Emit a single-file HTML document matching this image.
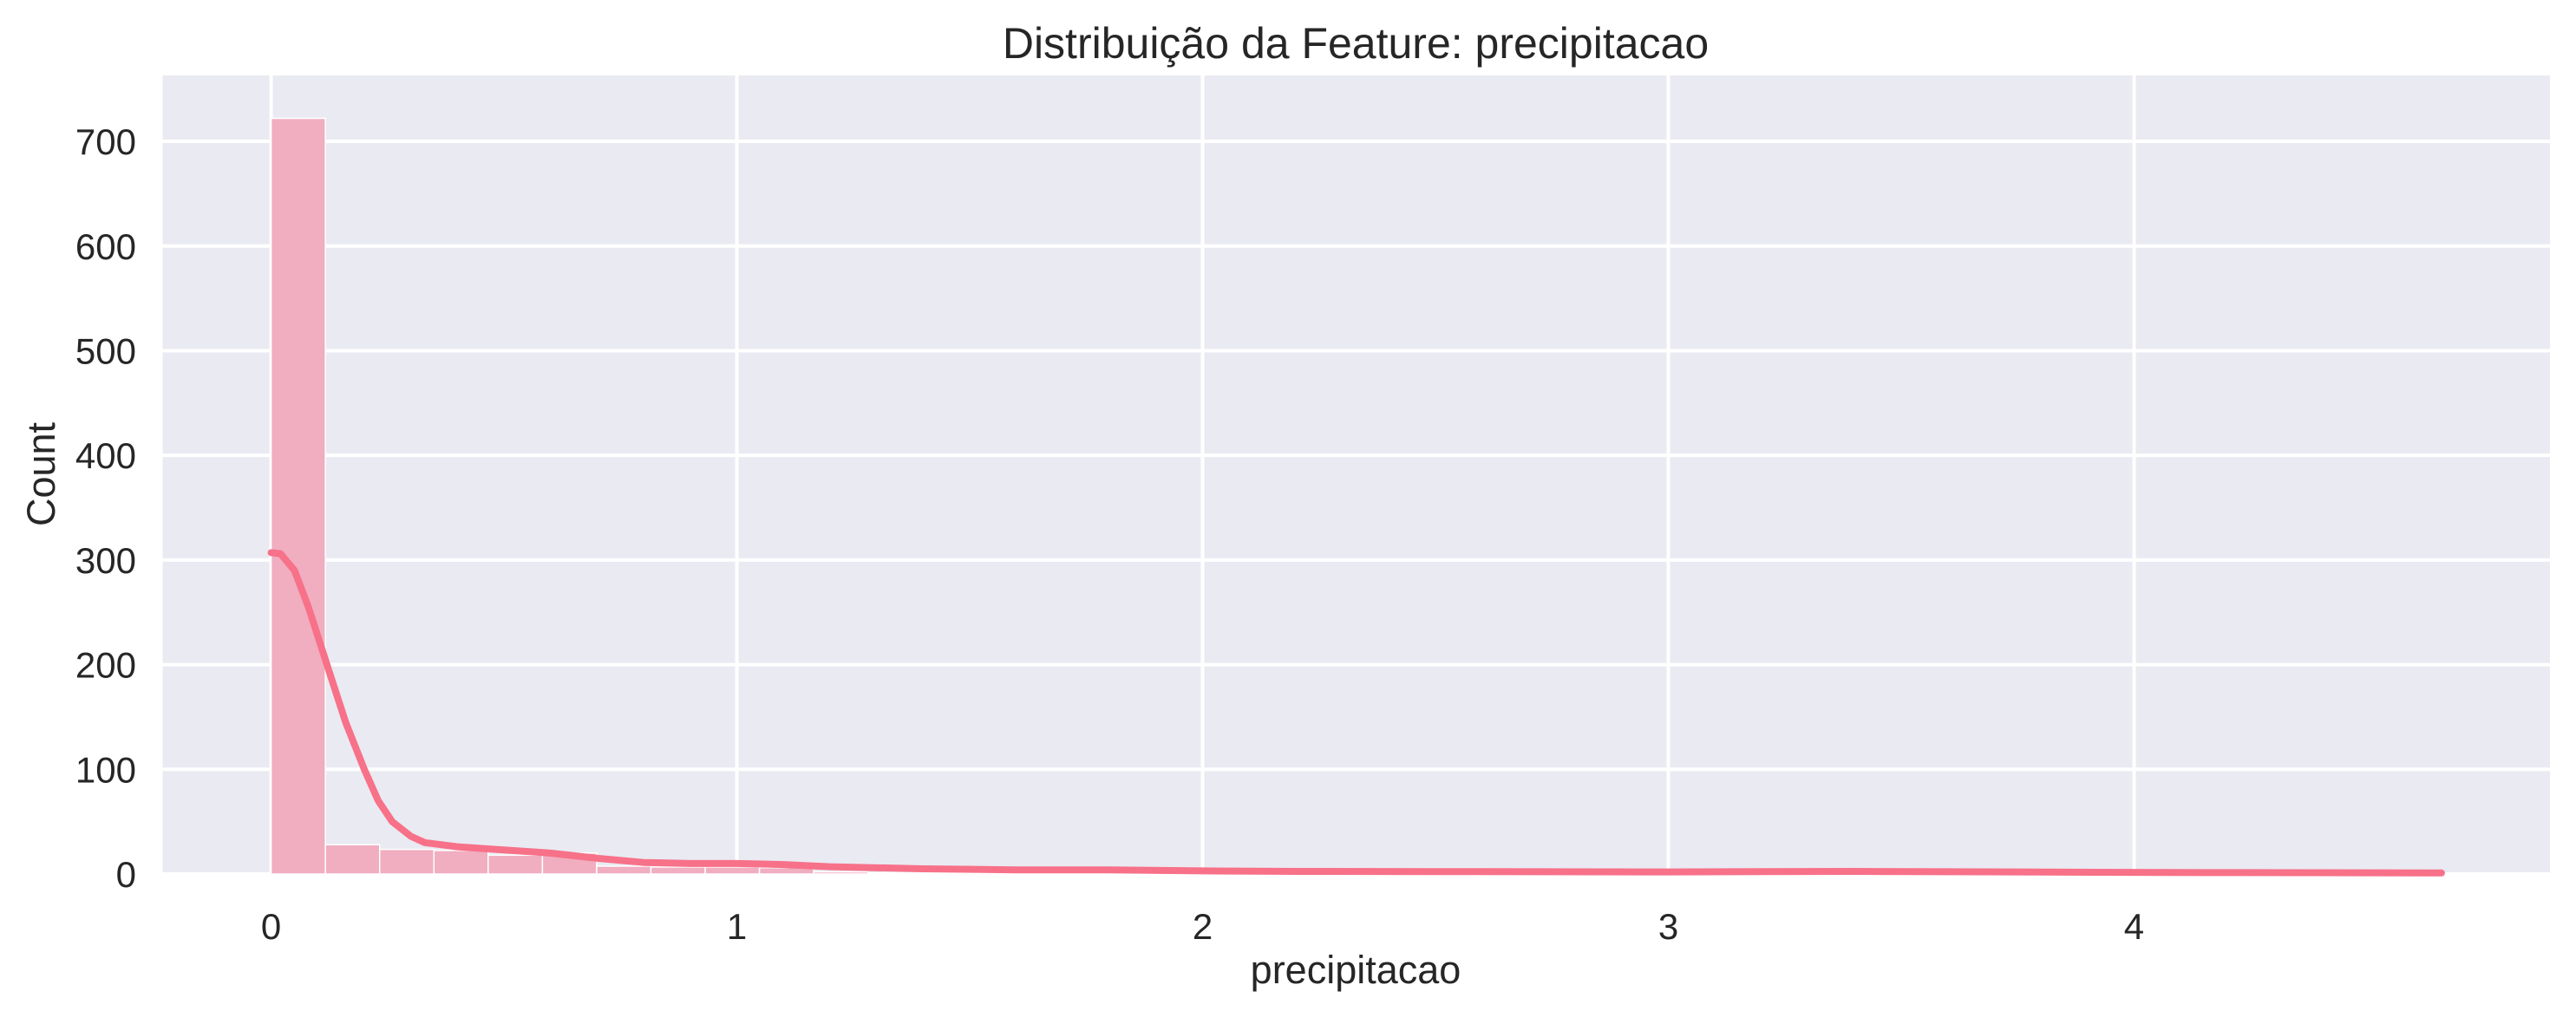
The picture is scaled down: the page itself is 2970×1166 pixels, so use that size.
<!DOCTYPE html>
<html><head><meta charset="utf-8"><style>
html,body{margin:0;padding:0;background:#fff;}
svg{display:block;font-family:"Liberation Sans",Arial,sans-serif;}
</style></head><body>
<svg id="chart" width="2970" height="1166" viewBox="0 0 2970 1166">
<rect x="0" y="0" width="2970" height="1166" fill="#fff"/>
<rect id="plotbg" x="187.5" y="87" width="2752.5" height="921" fill="#EAEAF2"/>
<g id="grid"></g><g id="bars"></g><g id="kde"></g><g id="ticks"></g>
<text x="1563" y="67" font-size="50" text-anchor="middle" fill="#262626">Distribuição da Feature: precipitacao</text>
<text x="1563" y="1134" font-size="45" text-anchor="middle" fill="#262626">precipitacao</text>
<text transform="translate(63,547) rotate(-90)" font-size="45" text-anchor="middle" fill="#262626">Count</text>
</svg>
<script>
const binCounts = [722,28,23.5,22.5,18,20,7.5,6.7,6.7,6,2,1,1,1,1,0,1,1,0,1,0,1,0,0,1,0,0,1,0,1,0,0,1,0,0,0,1,0,0,1];
const binMax = 4.66;
const kdeX = [0,0.02,0.05,0.08,0.12,0.16,0.2,0.23,0.26,0.3,0.33,0.4,0.5,0.6,0.7,0.8,0.9,1.0,1.1,1.2,1.4,1.6,1.8,2.0,2.2,2.6,3.0,3.4,3.8,4.2,4.66];
const kdeY = [307,306,290,255,200,145,100,70,50,36,30,26,23,20,15,11,10,10,9,7,5,4,4,3,2.5,2.2,2,2.5,1.8,1.3,1];
const xTicks = [0,1,2,3,4];
const yTicks = [0,100,200,300,400,500,600,700];
const NS="http://www.w3.org/2000/svg";
const L=187.5,R=2940,T=87,B=1008;
const xMin=-0.233,xMax=4.893,yMin=0,yMax=763;
const xs=v=>L+(v-xMin)/(xMax-xMin)*(R-L);
const ys=v=>B-(v-yMin)/(yMax-yMin)*(B-T);
function mk(tag,attrs,parent){const e=document.createElementNS(NS,tag);for(const k in attrs)e.setAttribute(k,attrs[k]);parent.appendChild(e);return e;}
const grid=document.getElementById('grid'),ticks=document.getElementById('ticks');
xTicks.forEach(t=>{
  const l=mk('line',{x1:xs(t),x2:xs(t),y1:T,y2:B,stroke:'#fff','stroke-width':4},grid);
  
  
  const tx=mk('text',{x:xs(t),y:1083,'font-size':42,'text-anchor':'middle',fill:'#262626'},ticks);
  tx.textContent=t;
  
  
});
yTicks.forEach(t=>{
  const l=mk('line',{x1:L,x2:R,y1:ys(t),y2:ys(t),stroke:'#fff','stroke-width':4},grid);
  
  
  const tx=mk('text',{x:157,y:ys(t)+15,'font-size':42,'text-anchor':'end',fill:'#262626'},ticks);
  tx.textContent=t;
  
  
});
const bars=document.getElementById('bars');
const bw=binMax/binCounts.length;
binCounts.forEach((c,i)=>{
  if(c<=0)return;
  const x0=xs(i*bw),x1=xs((i+1)*bw);
  const r=mk('rect',{x:x0,y:ys(c),width:x1-x0,height:ys(0)-ys(c),fill:'#F0AEC0',stroke:'#fff','stroke-width':1.5},bars);
  
  
});
const d=kdeX.map((x,i)=>(i?'L':'M')+xs(x).toFixed(1)+','+ys(kdeY[i]).toFixed(1)).join(' ');
const p=mk('path',{d:d,fill:'none',stroke:'#F77189','stroke-width':8,'stroke-linejoin':'round','stroke-linecap':'round'},document.getElementById('kde'));


</script>
</body></html>
